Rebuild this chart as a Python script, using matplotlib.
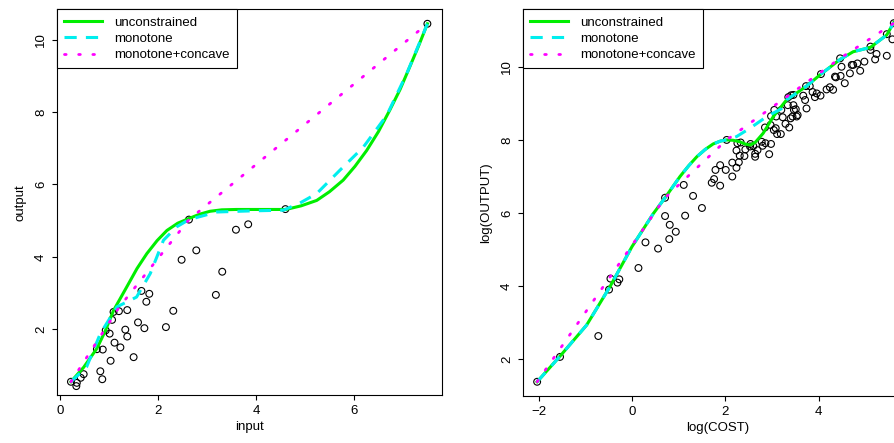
import numpy as np
import matplotlib.pyplot as plt

plt.rcParams['font.family'] = ['Liberation Sans', 'DejaVu Sans']
plt.rcParams['font.size'] = 9.5

# left panel data
in_x = [0.22, 0.33, 0.34, 0.42, 0.48, 0.75, 0.87, 0.82, 0.86, 1.03, 0.93, 1.01, 1.06, 1.09,
        1.20, 1.37, 1.11, 1.23, 1.33, 1.37, 1.50, 1.59, 1.72, 1.66, 1.76, 1.82, 2.16, 2.31,
        2.48, 2.63, 2.78, 3.18, 3.31, 3.59, 3.84, 4.60, 7.50]
in_y = [0.55, 0.43, 0.52, 0.66, 0.76, 1.45, 1.44, 0.84, 0.62, 1.13, 1.97, 1.88, 2.26, 2.48,
        2.50, 2.53, 1.63, 1.50, 1.99, 1.80, 1.23, 2.19, 2.03, 3.06, 2.76, 2.98, 2.06, 2.51,
        3.92, 5.03, 4.18, 2.95, 3.59, 4.75, 4.90, 5.32, 10.44]

unc_x = [0.22, 0.48, 0.75, 0.92, 1.09, 1.36, 1.57, 1.77, 1.98, 2.18, 2.40, 2.63, 2.85, 3.06, 3.30,
         3.60, 4.10, 4.61, 4.92, 5.24, 5.50, 5.78, 6.02, 6.26, 6.50, 6.73, 6.94, 7.14, 7.33, 7.50]
unc_y = [0.55, 0.95, 1.47, 1.95, 2.52, 3.17, 3.68, 4.09, 4.45, 4.73, 4.93, 5.06, 5.18, 5.26, 5.30,
         5.31, 5.31, 5.31, 5.41, 5.56, 5.80, 6.12, 6.50, 6.94, 7.46, 8.05, 8.62, 9.25, 9.86, 10.44]
mon_x = [0.22, 0.54, 0.82, 1.16, 1.56, 1.84, 2.11, 2.38, 2.63, 3.20, 3.88, 4.56, 4.90, 5.24, 5.71,
         6.19, 6.67, 7.08, 7.50]
mon_y = [0.55, 0.96, 1.88, 2.62, 2.89, 3.54, 4.46, 4.83, 5.03, 5.24, 5.27, 5.29, 5.49, 5.75, 6.39,
         7.03, 7.91, 9.07, 10.44]
cc_x = [0.22, 1.20, 2.63, 7.50]
cc_y = [0.55, 2.60, 5.03, 10.44]

# right panel data
lc = [-2.03, -1.54, -0.72, -0.49, -0.46, -0.31, -0.27, 0.14, 0.29, 0.56, 0.71, 0.71, 0.81, 0.80,
      0.94, 1.11, 1.14, 1.31, 1.50, 1.71, 1.76, 1.89, 1.79, 1.89, 2.01, 2.03, 2.15, 2.15, 2.24,
      2.29, 2.24, 2.31, 2.26, 2.33, 2.41, 2.43, 2.53, 2.54, 2.60, 2.64, 2.64, 2.69, 2.78, 2.80,
      2.86, 2.94, 2.98, 2.85, 2.97, 2.98, 3.04, 3.08, 3.11, 3.19, 3.05, 3.09, 3.20, 3.23, 3.29,
      3.37, 3.34, 3.40, 3.44, 3.46, 3.47, 3.51, 3.53, 3.55, 3.35, 3.41, 3.46, 3.67, 3.71, 3.74,
      3.73, 3.81, 3.87, 3.92, 3.96, 4.04, 4.05, 4.17, 4.24, 4.31, 4.35, 4.37, 4.47, 4.49, 4.46,
      4.56, 4.67, 4.71, 4.74, 4.83, 4.89, 4.98, 5.11, 5.11, 5.21, 5.24, 5.46, 5.46, 5.58, 5.61]
lo = [1.39, 2.07, 2.64, 3.91, 4.21, 4.10, 4.19, 4.50, 5.20, 5.03, 5.92, 6.42, 5.68, 5.29,
      5.49, 6.77, 5.93, 6.47, 6.14, 6.83, 6.93, 6.75, 7.18, 7.31, 7.18, 8.00, 7.00, 7.38, 7.24,
      7.39, 7.71, 7.57, 7.91, 7.93, 7.56, 7.74, 7.82, 7.89, 7.83, 7.54, 7.62, 7.72, 7.95, 7.84,
      7.91, 7.61, 7.89, 8.34, 8.41, 8.65, 8.27, 8.32, 8.16, 8.16, 8.82, 8.64, 8.82, 8.62, 8.44,
      8.34, 8.95, 8.59, 8.64, 8.95, 8.82, 8.84, 8.64, 8.68, 9.17, 9.22, 9.23, 9.21, 9.09, 8.86,
      9.47, 9.47, 9.31, 9.17, 9.27, 9.21, 9.80, 9.38, 9.44, 9.37, 9.73, 9.71, 9.75, 10.00, 10.23,
      9.55, 9.82, 10.05, 10.05, 10.09, 9.89, 10.14, 10.46, 10.55, 10.20, 10.35, 10.30, 10.89, 10.75, 11.19]

r_unc_x = [-2.03, -1.54, -0.97, -0.47, 0.0, 0.46, 0.71, 1.03, 1.22, 1.39, 1.57, 1.74, 1.90, 2.03,
           2.17, 2.31, 2.42, 2.53, 2.64, 2.81, 3.03, 3.31, 3.74, 4.05, 4.46, 4.74, 5.11, 5.46, 5.61]
r_unc_y = [1.39, 2.09, 2.94, 3.99, 5.08, 5.99, 6.42, 7.00, 7.30, 7.54, 7.74, 7.89, 7.97, 8.00,
           7.99, 7.95, 7.89, 7.86, 7.93, 8.18, 8.64, 9.09, 9.47, 9.80, 10.20, 10.41, 10.53, 10.87, 11.21]
r_mon_x = [-2.03, -1.54, -0.97, -0.47, 0.0, 0.46, 0.71, 1.03, 1.22, 1.39, 1.57, 1.74, 1.90, 2.03,
           2.24, 2.53, 2.89, 3.20, 3.31, 3.74, 4.05, 4.46, 4.74, 5.11, 5.46, 5.61]
r_mon_y = [1.39, 2.09, 2.94, 3.99, 5.08, 5.99, 6.42, 7.00, 7.30, 7.54, 7.74, 7.89, 7.97, 8.00,
           8.09, 8.32, 8.64, 8.85, 9.09, 9.47, 9.80, 10.20, 10.41, 10.53, 10.87, 11.21]
r_cc_x = [-2.03, 0.71, 2.03, 4.46, 5.61]
r_cc_y = [1.39, 6.42, 8.00, 10.23, 11.19]

fig = plt.figure(figsize=(8.95, 4.43), dpi=100)
ax1 = fig.add_axes([0.0634, 0.108, 0.430, 0.871])
ax2 = fig.add_axes([0.584, 0.106, 0.435, 0.873])


def panel(ax, px, py, ux, uy, mx, my, cx, cy):
    ax.scatter(px, py, s=24, facecolors='none', edgecolors='black', linewidths=0.8, zorder=2)
    ax.plot(ux, uy, color='#00ee00', lw=2.2, label='unconstrained', zorder=3)
    ax.plot(mx, my, color='#00eeee', lw=2.2, dashes=(4, 3), label='monotone', zorder=4)
    ax.plot(cx, cy, color='#ff00ff', lw=2.0, dashes=(0.6, 4.5), dash_capstyle='round',
            label='monotone+concave', zorder=5)
    leg = ax.legend(loc='upper left', fancybox=False, framealpha=1, edgecolor='black',
                    borderaxespad=0, handlelength=2.9, handletextpad=0.9, labelspacing=0.3,
                    borderpad=0.55, fontsize=9.5)
    leg.get_frame().set_linewidth(0.8)


panel(ax1, in_x, in_y, unc_x, unc_y, mon_x, mon_y, cc_x, cc_y)
ax1.set_xlim(-0.07, 7.79)
ax1.set_ylim(0.18, 10.84)
ax1.set_xticks([0, 2, 4, 6])
ax1.set_yticks([2, 4, 6, 8, 10])
ax1.set_xlabel('input', labelpad=3)
ax1.set_ylabel('output', labelpad=6)

panel(ax2, lc, lo, r_unc_x, r_unc_y, r_mon_x, r_mon_y, r_cc_x, r_cc_y)
ax2.set_xlim(-2.34, 6.0)
ax2.set_ylim(1.0, 11.57)
ax2.set_xticks([-2, 0, 2, 4])
ax2.set_yticks([2, 4, 6, 8, 10])
ax2.set_xlabel('log(COST)', labelpad=3)
ax2.set_ylabel('log(OUTPUT)', labelpad=6)

for ax in (ax1, ax2):
    for lab in ax.get_yticklabels():
        lab.set_rotation(90)
        lab.set_va('center')

fig.savefig('out.png', dpi=100)
